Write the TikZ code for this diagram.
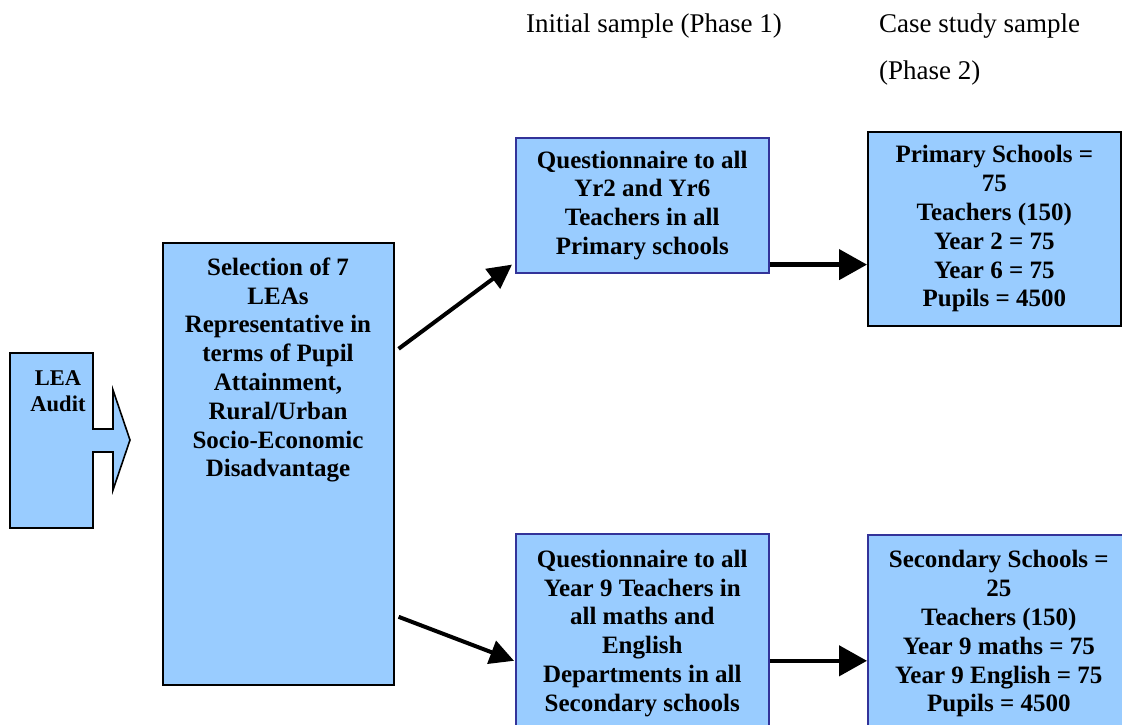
\documentclass[tikz,border=0pt]{standalone}
\usepackage{fontspec}
\setmainfont{Liberation Serif}
\usetikzlibrary{arrows.meta}
\definecolor{boxfill}{HTML}{99CCFF}
\definecolor{boxline}{HTML}{333399}
\begin{document}
\begin{tikzpicture}[x=1pt,y=-1pt,
  box/.style={draw=black, line width=1.6pt, fill=boxfill, inner sep=0pt, anchor=north west,
    font=\fontsize{25}{28.8}\selectfont\bfseries, align=center},
  bluebox/.style={box, draw=boxline},
  txt/.style={font=\fontsize{25}{28.8}\selectfont\bfseries, align=center, inner sep=0pt},
  conn/.style={line width=4.5pt, -{Triangle[length=28pt,width=30pt]}},
  dconn/.style={line width=4pt, -{Triangle[length=24pt,width=24pt]}},
  hdr/.style={anchor=west, inner sep=0pt, font=\fontsize{27}{30}\selectfont}
]
\useasboundingbox (0,0) rectangle (1122,724);

% headers
\node[hdr] (h1) at (526,26) {Initial sample (Phase 1)};
\node[hdr] (h2) at (879,26) {Case study sample};
\node[hdr] (h3) at (879,73) {(Phase 2)};

% LEA audit block arrow
\draw[fill=boxfill, draw=black, line width=1.6pt]
  (10,353) -- (93,353) -- (93,429) -- (113,429) -- (113,390) -- (130,440)
  -- (113,490) -- (113,452) -- (93,452) -- (93,528) -- (10,528) -- cycle;
\node[txt, font=\fontsize{22.5}{26}\selectfont\bfseries] (lea) at (58,391) {LEA\\Audit};

% selection box
\node[box, minimum width=231pt, minimum height=442pt] (sel) at (162,242) {};
\node[txt] (seltext) at (278,370) {Selection of 7\\LEAs\\Representative in\\terms of Pupil\\Attainment,\\Rural/Urban\\Socio-Economic\\Disadvantage};

% phase 1 boxes
\node[bluebox, minimum width=253pt, minimum height=135pt] (q1) at (515,137)
  {Questionnaire to all\\Yr2 and Yr6\\Teachers in all\\Primary schools};
\node[bluebox, minimum width=253pt, minimum height=199pt] (q2) at (515,533)
  {Questionnaire to all\\Year 9 Teachers in\\all maths and\\English\\Departments in all\\Secondary schools};

% phase 2 boxes
\node[box, minimum width=253pt, minimum height=194pt, text depth=5pt] (prim) at (867,131)
  {Primary Schools =\\75\\Teachers (150)\\Year 2 = 75\\Year 6 = 75\\Pupils = 4500};
\node[bluebox, minimum width=262pt, minimum height=198pt] (sec) at (867,534)
  {Secondary Schools =\\25\\Teachers (150)\\Year 9 maths = 75\\Year 9 English = 75\\Pupils = 4500};

% connectors
\draw[dconn] ([shift={(4pt,115pt)}]sel.east) -- ([shift={(-3pt,9pt)}]q1.south west);
\draw[dconn] ([shift={(4pt,-153pt)}]sel.east) -- ([shift={(-1pt,-27.5pt)}]q2.west);
\draw[conn] ([yshift=9pt]q1.south east) coordinate (a1) -- (a1 -| prim.west);
\draw[conn] ([yshift=-27.5pt]q2.east) coordinate (a2) -- (a2 -| sec.west);
\end{tikzpicture}
\end{document}
